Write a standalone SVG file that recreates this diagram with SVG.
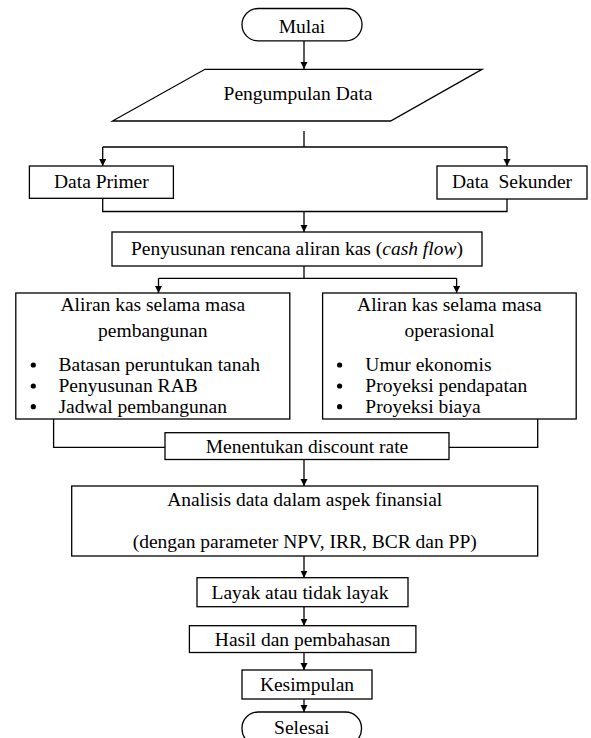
<svg xmlns="http://www.w3.org/2000/svg" width="591" height="738" viewBox="0 0 591 738">
<style>
.b{fill:#fff;stroke:#000;stroke-width:1.3}
text{font-family:"Liberation Serif","Times New Roman","DejaVu Serif",serif;font-size:19.5px;fill:#000}
.c{text-anchor:middle}
.ln{fill:none;stroke:#000;stroke-width:1.3}
</style>
<defs>
<marker id="ar" viewBox="0 0 10 10" refX="10" refY="5" markerWidth="7" markerHeight="8" markerUnits="userSpaceOnUse" orient="auto">
<path d="M0,0L10,5L0,10z" fill="#000"/>
</marker>
</defs>
<rect width="591" height="738" fill="#fff"/>
<g id="connectors">
<path class="ln" d="M304,41V69" marker-end="url(#ar)"/>
<path class="ln" d="M304,131V147"/>
<path class="ln" d="M102.7,147H507"/>
<path class="ln" d="M102.7,147V166" marker-end="url(#ar)"/>
<path class="ln" d="M507,147V166" marker-end="url(#ar)"/>
<path class="ln" d="M102.7,198.5V211.5H507V199"/>
<path class="ln" d="M304,211.5V232" marker-end="url(#ar)"/>
<path class="ln" d="M304,266V278.3"/>
<path class="ln" d="M158.5,278.3H456.6"/>
<path class="ln" d="M158.5,278.3V293" marker-end="url(#ar)"/>
<path class="ln" d="M456.6,278.3V293" marker-end="url(#ar)"/>
<path class="ln" d="M53.6,419V447.3H165"/>
<path class="ln" d="M537.7,419V447.3H449"/>
<path class="ln" d="M304,459.5V486" marker-end="url(#ar)"/>
<path class="ln" d="M304,556V577.7" marker-end="url(#ar)"/>
<path class="ln" d="M304,606.7V625.7" marker-end="url(#ar)"/>
<path class="ln" d="M304,652.5V670" marker-end="url(#ar)"/>
<path class="ln" d="M304,699V712" marker-end="url(#ar)"/>
</g>
<g id="mulai">
<rect class="b" x="242" y="8.5" width="120" height="32.3" rx="16"/>
<text class="c" x="302" y="33" font-family="Liberation Serif, serif">Mulai</text>
</g>
<g id="pengumpulan">
<polygon class="b" points="205,69.3 482,69.3 390.6,121 112.5,121"/>
<text class="c" x="298" y="100">Pengumpulan Data</text>
</g>
<g id="primer">
<rect class="b" x="29.4" y="166" width="144" height="32.3"/>
<text class="c" x="101.4" y="188">Data Primer</text>
</g>
<g id="sekunder">
<rect class="b" x="437" y="166" width="150" height="33"/>
<text class="c" x="512" y="188" xml:space="preserve">Data  Sekunder</text>
</g>
<g id="penyusunan">
<rect class="b" x="112" y="232" width="370" height="34"/>
<text class="c" x="297" y="254.5">Penyusunan rencana aliran kas (<tspan font-style="italic">cash flow</tspan>)</text>
</g>
<g id="pembangunan">
<rect class="b" x="15.8" y="293" width="274" height="126"/>
<text class="c" x="152.8" y="311">Aliran kas selama masa</text>
<text class="c" x="152.8" y="337">pembangunan</text>
<circle cx="33.3" cy="365" r="2.6"/>
<circle cx="33.3" cy="386" r="2.6"/>
<circle cx="33.3" cy="406.7" r="2.6"/>
<text x="58.5" y="371">Batasan peruntukan tanah</text>
<text x="58.5" y="392">Penyusunan RAB</text>
<text x="58.5" y="412.5">Jadwal pembangunan</text>
</g>
<g id="operasional">
<rect class="b" x="322.6" y="293" width="253.6" height="126"/>
<text class="c" x="449.4" y="311">Aliran kas selama masa</text>
<text class="c" x="449.4" y="337">operasional</text>
<circle cx="339.6" cy="365" r="2.6"/>
<circle cx="339.6" cy="386" r="2.6"/>
<circle cx="339.6" cy="406.7" r="2.6"/>
<text x="365.3" y="371">Umur ekonomis</text>
<text x="365.3" y="392">Proyeksi pendapatan</text>
<text x="365.3" y="412.5">Proyeksi biaya</text>
</g>
<g id="discount">
<rect class="b" x="165" y="432.7" width="284" height="26.8"/>
<text class="c" x="307" y="452.5">Menentukan discount rate</text>
</g>
<g id="analisis">
<rect class="b" x="71.7" y="486" width="466" height="70"/>
<text class="c" x="304.7" y="506">Analisis data dalam aspek finansial</text>
<text class="c" x="304.7" y="547.5">(dengan parameter NPV, IRR, BCR dan PP)</text>
</g>
<g id="layak">
<rect class="b" x="197" y="577.7" width="211" height="29"/>
<text class="c" x="300" y="598.5">Layak atau tidak layak</text>
</g>
<g id="hasil">
<rect class="b" x="189.4" y="625.7" width="226.5" height="26.8"/>
<text class="c" x="302.6" y="646">Hasil dan pembahasan</text>
</g>
<g id="kesimpulan">
<rect class="b" x="242" y="670" width="130" height="29"/>
<text class="c" x="307" y="691">Kesimpulan</text>
</g>
<g id="selesai">
<rect class="b" x="242" y="712" width="119.5" height="33" rx="16"/>
<text class="c" x="301.7" y="734">Selesai</text>
</g>
</svg>
